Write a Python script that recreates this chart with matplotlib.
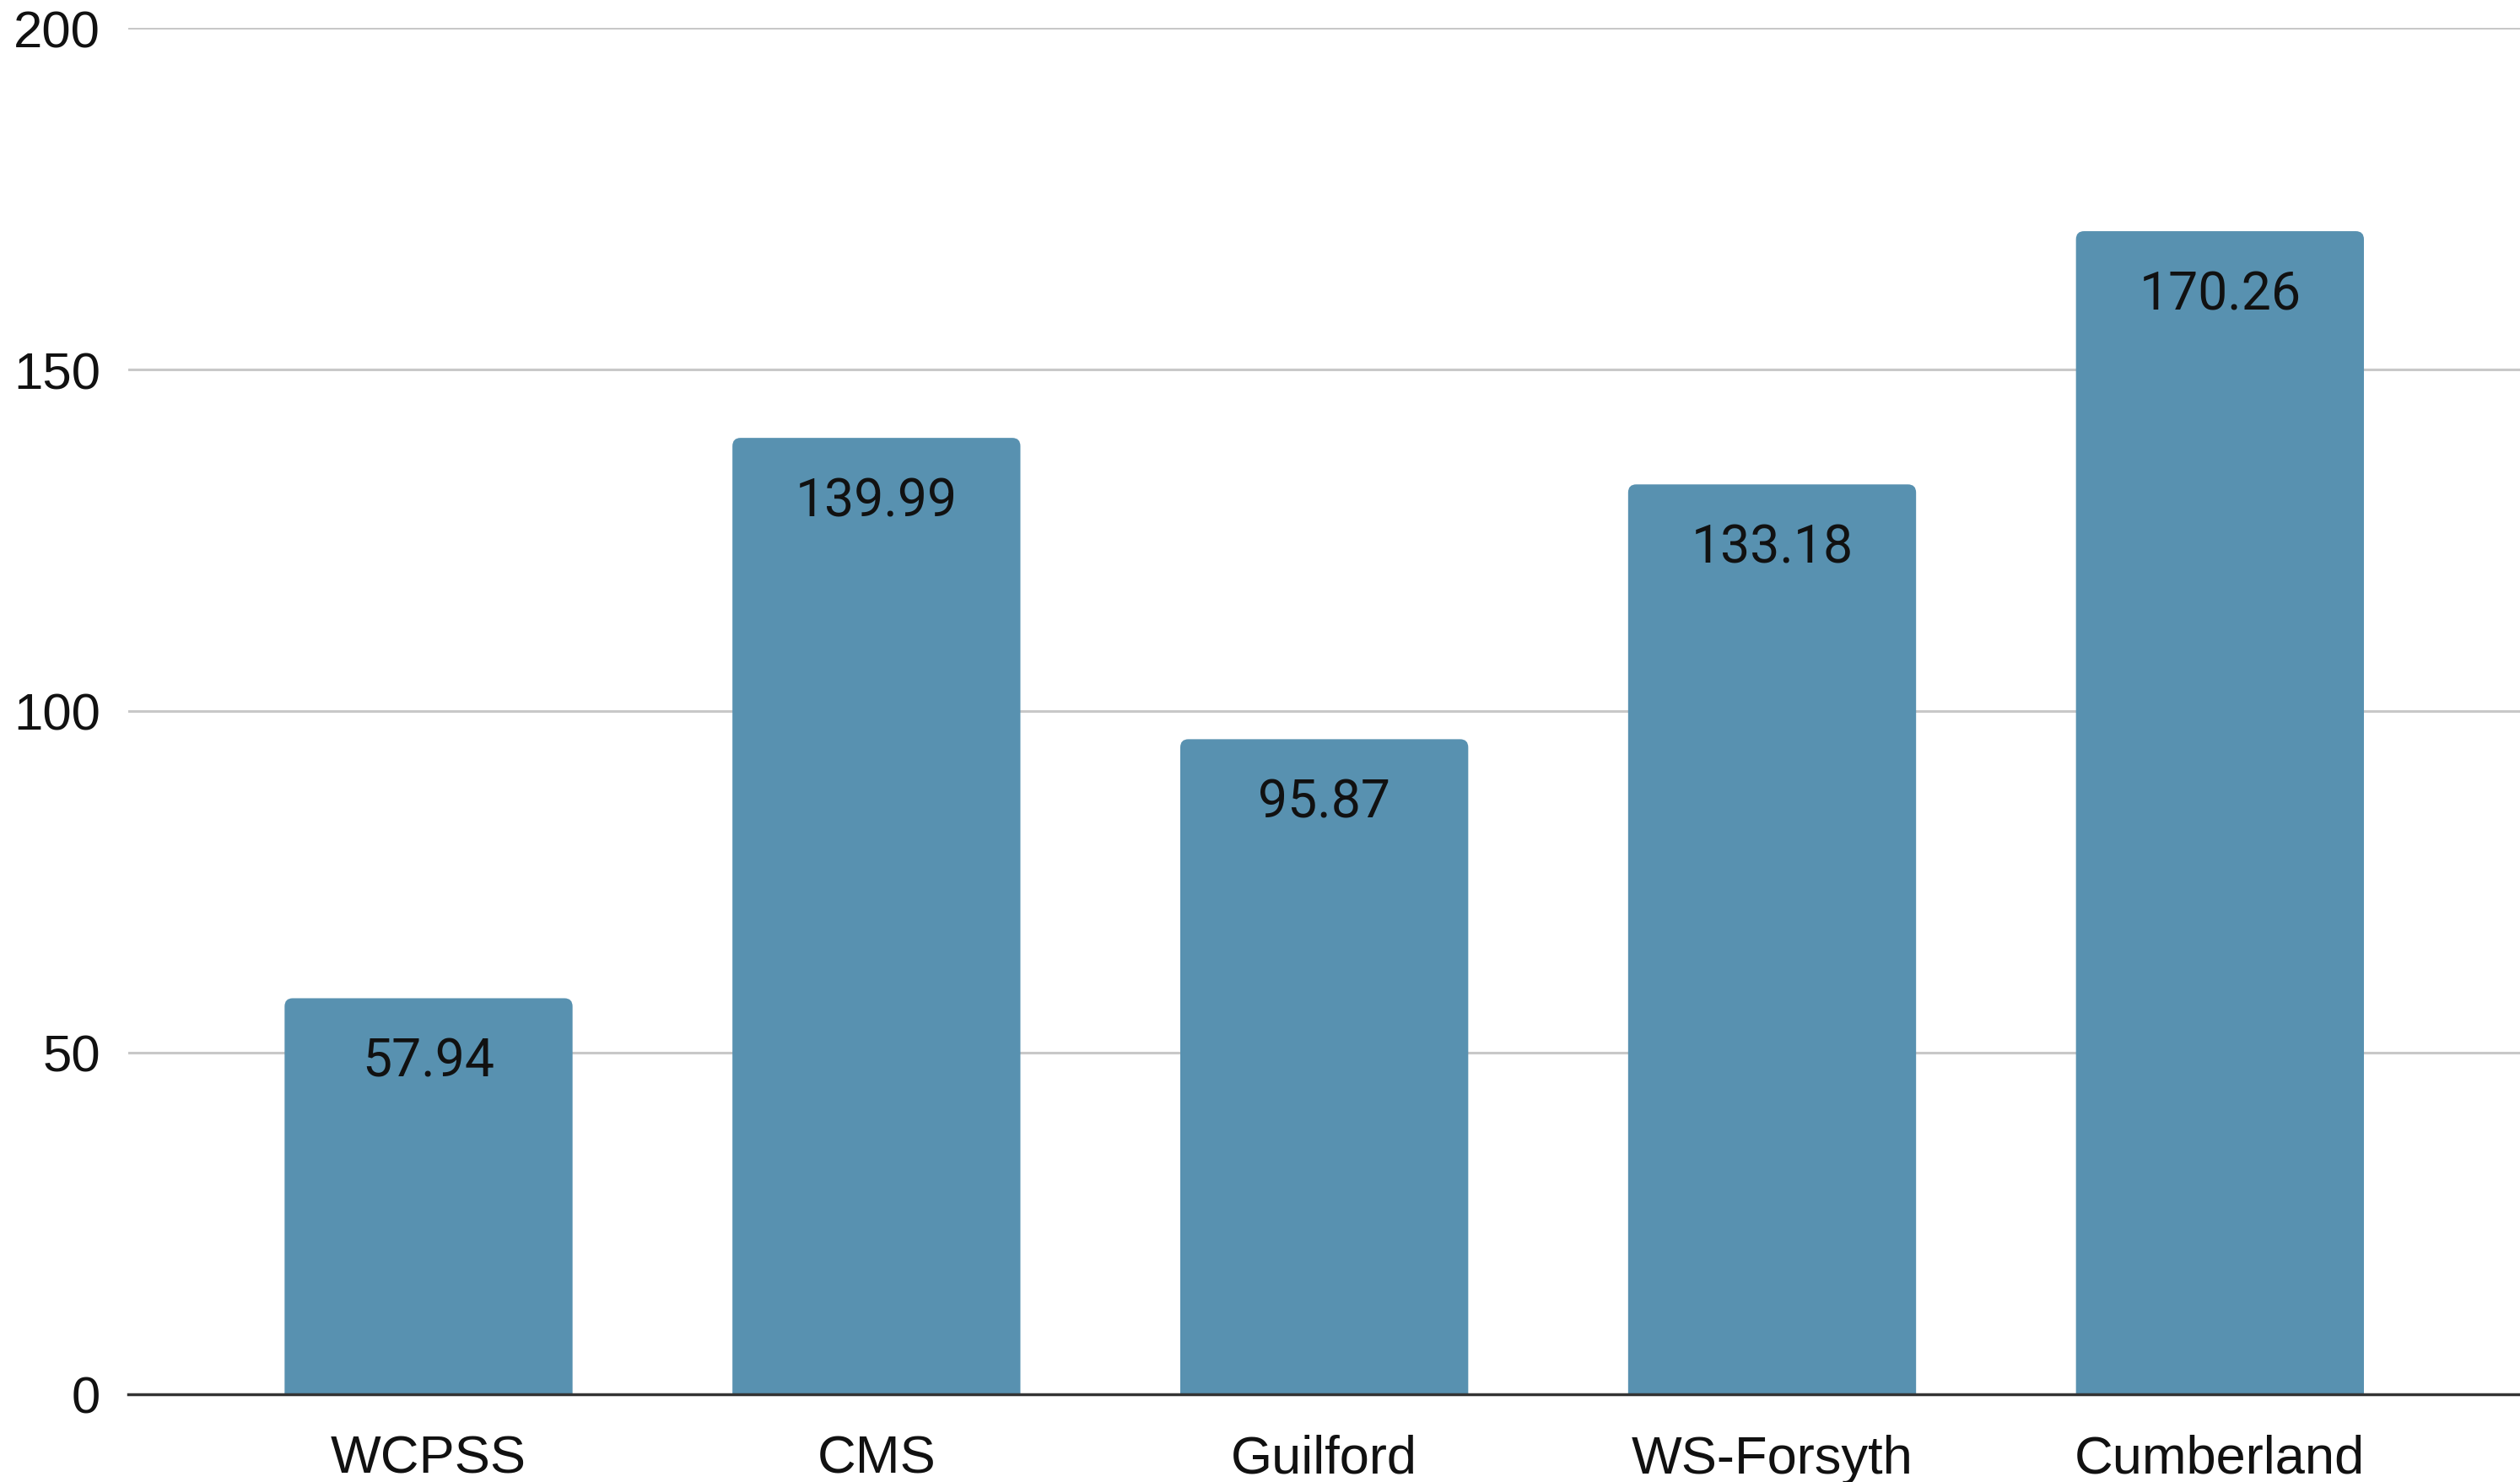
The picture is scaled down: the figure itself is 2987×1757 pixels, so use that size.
import matplotlib.pyplot as plt
from matplotlib.patches import FancyBboxPatch

# Data
districts = ["WCPSS", "CMS", "Guilford", "WS-Forsyth", "Cumberland"]
values = [57.94, 139.99, 95.87, 133.18, 170.26]
y_ticks = [0, 50, 100, 150, 200]

bar_color = "#5891b0"

fig = plt.figure(figsize=(29.87, 17.58), dpi=100)
ax = fig.add_axes([0.051, 0.0594, 0.949, 0.9211])

bars = ax.bar(range(len(districts)), values, width=0.643, color=bar_color, zorder=3)

# swap plain bars for ones with slightly rounded tops
r_x = 0.018
r_y = 1.2
for b in bars:
    x, w, h = b.get_x(), b.get_width(), b.get_height()
    rounded = FancyBboxPatch((x, -r_y * 2), w, h + r_y * 2,
                             boxstyle="round,pad=0,rounding_size=%f" % r_x,
                             mutation_aspect=r_y / r_x,
                             facecolor=bar_color, edgecolor="none", zorder=3)
    ax.add_patch(rounded)
    b.set_visible(False)

# value labels inside the top of each bar
for i, v in enumerate(values):
    ax.annotate("%.2f" % v, (i, v), xytext=(0, -54), textcoords="offset points",
                ha="center", va="center", fontsize=45, family="Roboto",
                color="#111111", zorder=4)

ax.set_xlim(-0.67, len(districts) - 1 + 0.67)
ax.set_ylim(0, 200)
ax.set_yticks(y_ticks)
ax.set_xticks(range(len(districts)))
ax.set_xticklabels(districts)

for lbl in ax.get_yticklabels():
    lbl.set_family("Liberation Sans")
    lbl.set_fontsize(44.5)
    lbl.set_color("#111111")
for lbl in ax.get_xticklabels():
    lbl.set_family("Liberation Sans")
    lbl.set_fontsize(45.5)
    lbl.set_color("#111111")

ax.tick_params(axis="y", length=0, pad=24)
ax.tick_params(axis="x", length=0, pad=34)

ax.grid(axis="y", color="#c8c8c8", linewidth=2.2, zorder=0)
ax.set_axisbelow(True)
for side in ["top", "right", "left"]:
    ax.spines[side].set_visible(False)
ax.spines["bottom"].set_color("#333333")
ax.spines["bottom"].set_linewidth(2.5)
ax.spines["bottom"].set_zorder(5)

fig.savefig("out.png", dpi=100)
